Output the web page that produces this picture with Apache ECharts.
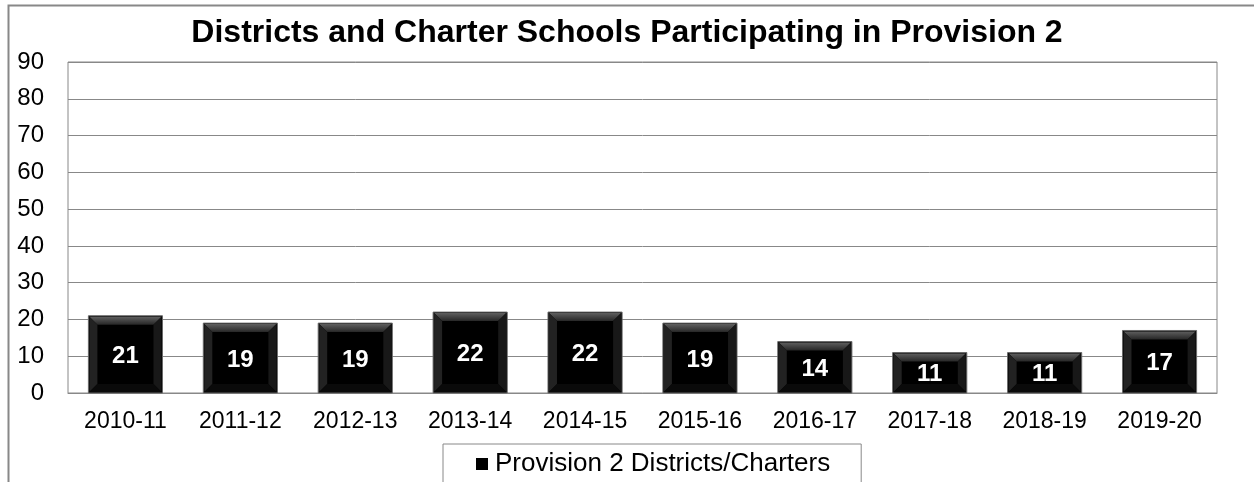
<!DOCTYPE html>
<html><head><meta charset="utf-8">
<script src="https://cdn.jsdelivr.net/npm/echarts@6/dist/echarts.min.js"></script>
<style>html,body{margin:0;padding:0;background:#fff}#c{width:1254px;height:482px}</style>
</head><body><div id="c"></div>
<script>
const categories = ['2010-11','2011-12','2012-13','2013-14','2014-15','2015-16','2016-17','2017-18','2018-19','2019-20'];
const values = [21,19,19,22,22,19,14,11,11,17];
const seriesName = 'Provision 2 Districts/Charters';
const titleText = 'Districts and Charter Schools Participating in Provision 2';

const chart = echarts.init(document.getElementById('c'));
const FONT = 'Liberation Sans, Arial, sans-serif';

function renderItem(params, api) {
  const idx = api.value(0), v = api.value(1);
  const top = api.coord([idx, v]);
  const base = api.coord([idx, 0]);
  const w = api.size([1, 0])[0] * 0.645;
  const x0 = top[0] - w / 2, x1 = top[0] + w / 2;
  const y0 = top[1], y1 = base[1];
  const b = Math.min(9, (y1 - y0) / 3);
  const children = [
    {type:'rect', shape:{x:x0, y:y0, width:w, height:y1-y0}, style:{fill:'#000', stroke:'#6a6a6a', lineWidth:1}},
    {type:'polygon', shape:{points:[[x0+1,y0+1],[x1-1,y0+1],[x1-b,y0+b],[x0+b,y0+b]]},
      style:{fill:new echarts.graphic.LinearGradient(0,0,0,1,[{offset:0,color:'#5e5e5e'},{offset:1,color:'#262626'}])}},
    {type:'polygon', shape:{points:[[x0+1,y0+1],[x0+b,y0+b],[x0+b,y1-b],[x0+1,y1-1]]}, style:{fill:'#222'}},
    {type:'polygon', shape:{points:[[x1-1,y0+1],[x1-b,y0+b],[x1-b,y1-b],[x1-1,y1-1]]}, style:{fill:'#181818'}},
    {type:'polygon', shape:{points:[[x0+1,y1-1],[x0+b,y1-b],[x1-b,y1-b],[x1-1,y1-1]]}, style:{fill:'#0a0a0a'}},
    {type:'text', style:{text:String(v), x:top[0], y:(y0+y1)/2+2, align:'center', verticalAlign:'middle',
      fill:'#fff', font:'bold 24px ' + FONT}}
  ];
  return {type:'group', children};
}

chart.setOption({
  animation:false,
  title:{text:titleText, left:'center', top:12, textStyle:{fontFamily:FONT, fontWeight:'bold', fontSize:32, color:'#000'}},
  graphic:[{type:'rect', shape:{x:8.5, y:5.5, width:1400, height:600}, style:{fill:'none', stroke:'#888', lineWidth:2}, z:-1}],
  legend:{
    data:[{name:seriesName, icon:'rect'}],
    left:443, top:444, orient:'horizontal',
    itemWidth:12, itemHeight:12, itemGap:4,
    padding:[7,31,30,33],
    borderColor:'#888', borderWidth:1,
    textStyle:{fontFamily:FONT, fontSize:26, color:'#000', padding:[0,0,0,2]}
  },
  grid:{left:68, right:37, top:62, bottom:89, show:true, borderColor:'#888', borderWidth:1},
  xAxis:{
    type:'category', data:categories,
    axisLine:{lineStyle:{color:'#888'}}, axisTick:{show:false},
    axisLabel:{fontFamily:FONT, fontSize:23, color:'#000', margin:17}
  },
  yAxis:{
    type:'value', min:0, max:90, interval:10,
    axisLine:{show:false}, axisTick:{show:false},
    splitLine:{lineStyle:{color:'#888', width:1}},
    axisLabel:{fontFamily:FONT, fontSize:24, color:'#000', margin:24}
  },
  series:[{
    name:seriesName, type:'custom', renderItem,
    itemStyle:{color:'#000'},
    encode:{x:0, y:1},
    data: values.map((v,i)=>[i,v])
  }]
});
</script></body></html>
